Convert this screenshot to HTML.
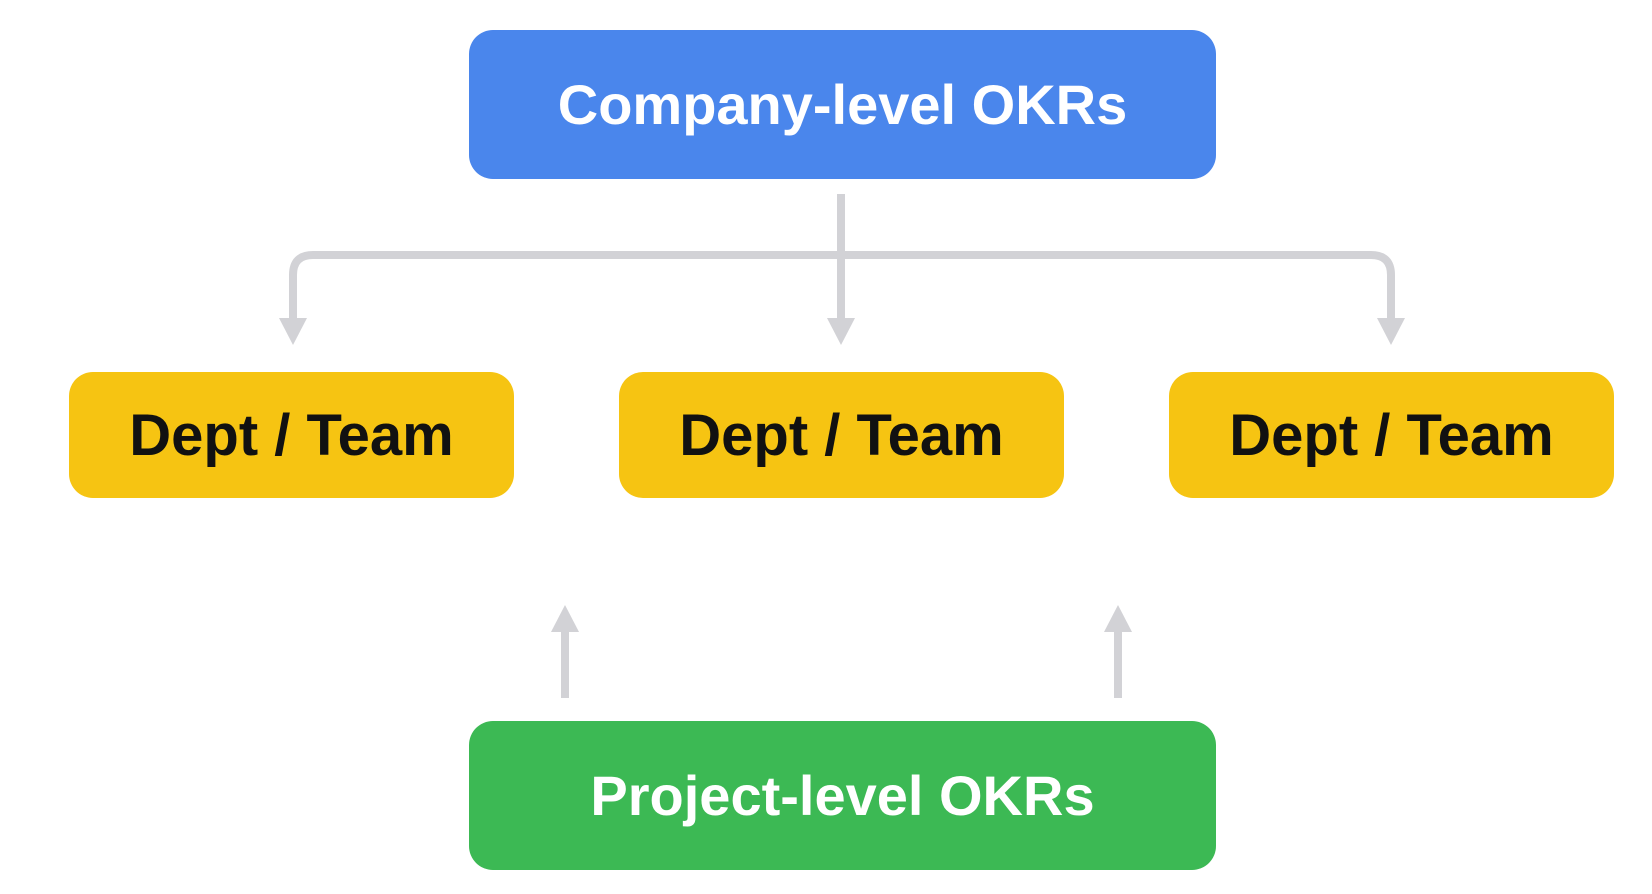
<!DOCTYPE html>
<html><head><style>
html,body{margin:0;padding:0;background:#fff;width:1652px;height:894px;overflow:hidden;position:relative;font-family:"Liberation Sans",sans-serif;font-weight:bold}
.b{position:absolute;display:flex;align-items:center;justify-content:center;border-radius:24px}
.blue{left:469px;top:30px;width:747px;height:149px;background:#4a86ec;color:#fff;font-size:56px}
.green{left:469px;top:721px;width:747px;height:149px;background:#3cb954;color:#fff;font-size:56px}
.y{top:372px;width:445px;height:126px;background:#f6c412;color:#111;font-size:58px}
</style></head><body>
<svg width="1652" height="894" style="position:absolute;left:0;top:0">
<g stroke="#d2d2d6" stroke-width="8" fill="none">
<path d="M841 194 V320"/>
<path d="M293 320 V275 Q293 255 313 255 H1371 Q1391 255 1391 275 V320"/>
<path d="M565 698 V630"/>
<path d="M1118 698 V630"/>
</g>
<g fill="#d2d2d6">
<polygon points="279,318 307,318 293,345"/>
<polygon points="827,318 855,318 841,345"/>
<polygon points="1377,318 1405,318 1391,345"/>
<polygon points="551,632 579,632 565,605"/>
<polygon points="1104,632 1132,632 1118,605"/>
</g>
</svg>
<div class="b blue">Company-level OKRs</div>
<div class="b y" style="left:69px">Dept / Team</div>
<div class="b y" style="left:619px">Dept / Team</div>
<div class="b y" style="left:1169px">Dept / Team</div>
<div class="b green">Project-level OKRs</div>
</body></html>
